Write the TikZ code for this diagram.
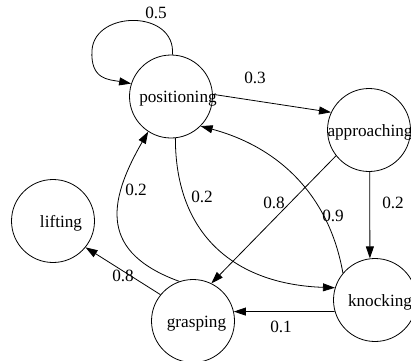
\documentclass[tikz,border=0pt]{standalone}
\usepackage{fontspec}
\setmainfont{Liberation Serif}
\usetikzlibrary{arrows.meta,calc}
% zero-width state caption, shifted right by half of #1
\newcommand\statecaption[2]{\makebox[0pt]{\hspace*{#1}#2}}
\begin{document}
\begin{tikzpicture}[x=1pt,y=1pt,
  state/.style={draw, circle, line width=0.8pt, minimum size=83pt, inner sep=0pt,
    font=\fontsize{17.2}{20}\selectfont, text height=12pt, text depth=0pt},
  trans/.style={line width=0.8pt, -{Triangle[length=12pt,width=8pt]}},
  prob/.style={font=\fontsize{17.2}{20}\selectfont, inner sep=0pt}]
\useasboundingbox (0,0) rectangle (411,360);

% states
\node[state] (pos)   at (171,263.5) {\statecaption{14pt}{positioning}};
\node[state] (app)   at (369,230)   {\statecaption{2pt}{approaching}};
\node[state] (lift)  at (53,139)    {\statecaption{16pt}{lifting}};
\node[state] (grasp) at (193,39)    {\statecaption{7pt}{grasping}};
\node[state] (knock) at (375,60)    {\statecaption{10pt}{knocking}};

% transitions
\draw[trans] (pos.88) .. controls +(3.5,45) and +(3,40) .. ([shift={(-79,46.5)}]pos.center)
             .. controls +(-2,-30) and +(-22,4) .. (pos.162);
\draw[trans] (pos.3) -- (app.155);
\draw[trans] (app.-89) -- (knock.97);
\draw[trans] (app.218) -- (grasp.64);
\draw[trans] (knock.140) to[out=100, in=-15] (pos.-45);
\draw[trans] (pos.-84) to[out=-90, in=178, looseness=1.15] (knock.163);
\draw[trans] (grasp.109) to[out=160, in=-120, looseness=1.4] (pos.237);
\draw[trans] (grasp.141) -- (lift.-39);
\draw[trans] (knock.196) -- (grasp.13);

% transition probabilities
\node[prob] (p55) at (156,347) {0.5};
\node[prob] (p53) at (255,282) {0.3};
\node[prob] (p22) at (393,157) {0.2};
\node[prob] (p28) at (274,157) {0.8};
\node[prob] (p39) at (333,144) {0.9};
\node[prob] (p12) at (202,163) {0.2};
\node[prob] (p42) at (136,170) {0.2};
\node[prob] (p48) at (123,84)  {0.8};
\node[prob] (p31) at (281,33)  {0.1};
\end{tikzpicture}
\end{document}
